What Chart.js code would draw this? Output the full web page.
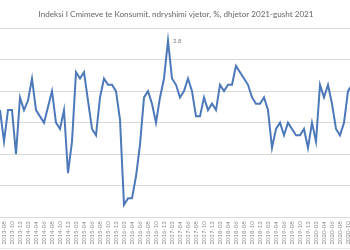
<!DOCTYPE html>
<html><head><meta charset="utf-8">
<script src="https://cdn.jsdelivr.net/npm/chart.js@4/dist/chart.umd.min.js"></script>
<style>
html,body{margin:0;padding:0;background:#fff;overflow:hidden}
#wrap{position:relative;width:350px;height:250px;overflow:hidden;background:#fff}
#box{position:absolute;left:0;top:0;width:352px;height:250px}
</style></head><body>
<div id="wrap"><div id="box"><canvas id="c"></canvas></div></div>
<script>
const chartTitle = "Indeksi I Cmimeve te Konsumit, ndryshimi vjetor, %, dhjetor 2021-gusht 2021";
const months = [
"2013-07","2013-08","2013-09","2013-10","2013-11","2013-12",
"2014-01","2014-02","2014-03","2014-04","2014-05","2014-06","2014-07","2014-08","2014-09","2014-10","2014-11","2014-12",
"2015-01","2015-02","2015-03","2015-04","2015-05","2015-06","2015-07","2015-08","2015-09","2015-10","2015-11","2015-12",
"2016-01","2016-02","2016-03","2016-04","2016-05","2016-06","2016-07","2016-08","2016-09","2016-10","2016-11","2016-12",
"2017-01","2017-02","2017-03","2017-04","2017-05","2017-06","2017-07","2017-08","2017-09","2017-10","2017-11","2017-12",
"2018-01","2018-02","2018-03","2018-04","2018-05","2018-06","2018-07","2018-08","2018-09","2018-10","2018-11","2018-12",
"2019-01","2019-02","2019-03","2019-04","2019-05","2019-06","2019-07","2019-08","2019-09","2019-10","2019-11","2019-12",
"2020-01","2020-02","2020-03","2020-04","2020-05","2020-06","2020-07","2020-08","2020-09","2020-10","2020-11"
];
const cpiChange = [
1.7,1.2,1.7,1.7,1.0,1.9,1.7,1.85,2.2,1.7,
1.6,1.5,1.75,2.0,1.5,1.4,1.7,0.7,1.2,2.3,
2.2,2.3,1.85,1.4,1.3,1.9,2.2,2.1,2.1,2.0,
1.55,0.2,0.3,0.3,0.65,1.15,1.9,2.0,1.8,1.5,
1.9,2.2,2.8,2.2,2.1,1.9,2.0,2.2,2.0,1.6,
1.6,1.9,1.7,1.8,1.7,2.1,2.0,2.1,2.1,2.4,
2.3,2.2,2.1,1.9,1.8,1.8,1.9,1.7,1.1,1.4,
1.5,1.3,1.5,1.4,1.3,1.3,1.4,1.1,1.5,1.2,
2.1,1.9,2.1,1.8,1.4,1.3,1.5,2.0,2.1
];
const labelledPoints = [42];
const yTicks = [0, 0.5, 1, 1.5, 2, 2.5, 3];

const pointLabel = {
  id: 'pointLabel',
  afterDatasetsDraw(chart) {
    const meta = chart.getDatasetMeta(0);
    const ctx = chart.ctx;
    ctx.save();
    ctx.font = '6px Lato, "Open Sans", sans-serif';
    ctx.fillStyle = '#7f7f7f';
    ctx.textBaseline = 'middle';
    ctx.textAlign = 'left';
    labelledPoints.forEach(i => {
      const p = meta.data[i];
      ctx.fillText(String(cpiChange[i]), p.x + 5, p.y);
    });
    ctx.restore();
  },
  afterDraw(chart) {
    const ctx = chart.ctx;
    ctx.save();
    ctx.strokeStyle = '#e8e8e8';
    ctx.lineWidth = 1;
    ctx.beginPath();
    ctx.moveTo(0, chart.height - 1.5);
    ctx.lineTo(chart.width, chart.height - 1.5);
    ctx.stroke();
    ctx.restore();
  }
};

new Chart(document.getElementById('c'), {
  type: 'line',
  data: {
    labels: months,
    datasets: [{
      data: cpiChange,
      borderColor: '#4d79ba',
      borderWidth: 2,
      pointRadius: 0,
      tension: 0,
      fill: false
    }]
  },
  options: {
    responsive: true,
    maintainAspectRatio: false,
    animation: false,
    devicePixelRatio: 1,
    layout: { padding: 0 },
    plugins: {
      legend: { display: false },
      tooltip: { enabled: false },
      title: {
        display: true,
        text: chartTitle,
        color: '#666666',
        font: { family: 'Lato, "Open Sans", sans-serif', size: 8.1, weight: 'normal', lineHeight: 1.2 },
        padding: { top: 9.2, bottom: 9.1 }
      }
    },
    scales: {
      x: {
        offset: false,
        grid: { display: false, drawTicks: false },
        border: { display: false },
        ticks: {
          autoSkip: false,
          maxRotation: 90,
          minRotation: 90,
          padding: 4,
          color: '#8c8c8c',
          font: { family: 'Lato, "Open Sans", sans-serif', size: 6 },
          callback: function(v, i) { return i % 2 === 1 ? this.getLabelForValue(v) : ''; }
        },
        afterFit: s => { s.paddingLeft = 0; s.paddingRight = 0; s.height = 32.7; }
      },
      y: {
        min: 0, max: 3,
        afterBuildTicks: s => { s.ticks = yTicks.map(v => ({ value: v })); },
        grid: { color: '#d9d9d9', lineWidth: 1, drawTicks: false },
        border: { display: false },
        ticks: { display: false },
        afterFit: s => { s.width = 0; }
      }
    }
  },
  plugins: [pointLabel]
});
</script>
</body></html>
